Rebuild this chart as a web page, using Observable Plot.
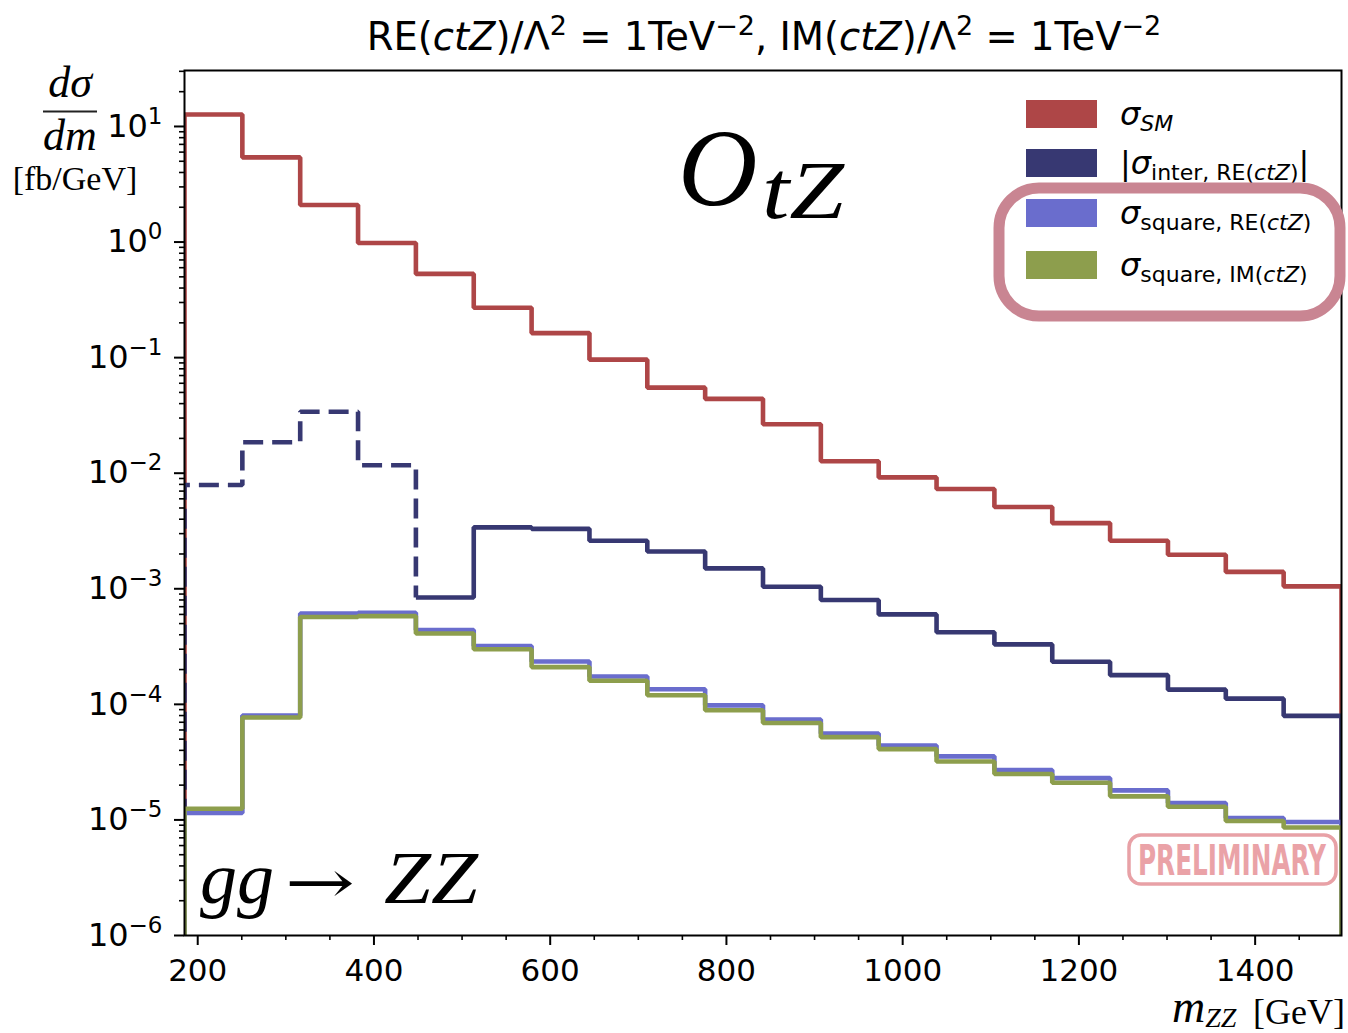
<!DOCTYPE html>
<html>
<head>
<meta charset="utf-8">
<script src="https://cdn.jsdelivr.net/npm/d3@7"></script>
<script src="https://cdn.jsdelivr.net/npm/@observablehq/plot@0.6"></script>
<style>
  html, body { margin: 0; padding: 0; background: white; }
  #chart { position: relative; width: 1348px; height: 1033px; }
</style>
</head>
<body>
<div id="chart"></div>
<script>
// ---------------- data ----------------
const binEdges = [185, 250.65, 316.3, 381.95, 447.6, 513.25, 578.9, 644.55, 710.2, 775.85,
  841.5, 907.15, 972.8, 1038.45, 1104.1, 1169.75, 1235.4, 1301.05, 1366.7, 1432.35, 1498];

const sigmaSM = [12.7, 5.4, 2.09, 0.98, 0.53, 0.27, 0.163, 0.096, 0.055, 0.044,
  0.0265, 0.0127, 0.0092, 0.0073, 0.0051, 0.0037, 0.0026, 0.00197, 0.0014, 0.00105];

// |sigma_inter|; first four bins are negative (drawn dashed)
const sigmaInter = [0.0079, 0.0185, 0.034, 0.0117, 0.00084, 0.0034, 0.0033, 0.0026, 0.0021, 0.0015,
  0.00104, 0.0008, 0.0006, 0.00042, 0.00033, 0.000234, 0.000179, 0.000134, 0.000112, 0.0000795];
const interNegative = [true, true, true, true, false, false, false, false, false, false,
  false, false, false, false, false, false, false, false, false, false];

const sigmaSqRE = [1.15e-5, 8.0e-5, 6.1e-4, 6.2e-4, 4.4e-4, 3.2e-4, 2.35e-4, 1.74e-4, 1.35e-4, 9.8e-5,
  7.4e-5, 5.6e-5, 4.4e-5, 3.55e-5, 2.7e-5, 2.3e-5, 1.8e-5, 1.4e-5, 1.04e-5, 9.6e-6];
const sigmaSqIM = [1.25e-5, 7.7e-5, 5.7e-4, 5.8e-4, 4.1e-4, 3.0e-4, 2.1e-4, 1.6e-4, 1.2e-4, 8.9e-5,
  6.9e-5, 5.2e-5, 4.1e-5, 3.2e-5, 2.5e-5, 2.1e-5, 1.6e-5, 1.3e-5, 9.8e-6, 8.6e-6];

const xTickValues = [200, 400, 600, 800, 1000, 1200, 1400];
const yTickExponents = [-6, -5, -4, -3, -2, -1, 0, 1];

const colSM = "#ae4647", colInter = "#373872", colSqRE = "#6a6dcd", colSqIM = "#8d9e4d";

// ---------------- helpers ----------------
const FLOOR = 1e-8;
function stepPts(vals, i0, i1, fromFloor, toFloor, tailY) {
  const pts = [];
  if (fromFloor) pts.push({x: binEdges[i0], y: FLOOR});
  for (let i = i0; i <= i1; i++) {
    pts.push({x: binEdges[i], y: vals[i]});
    pts.push({x: binEdges[i + 1], y: vals[i]});
  }
  if (toFloor) pts.push({x: binEdges[i1 + 1], y: FLOOR});
  if (tailY != null) pts.push({x: binEdges[i1 + 1], y: tailY});
  return pts;
}
const firstPos = interNegative.indexOf(false);
const interDashed = stepPts(sigmaInter, 0, firstPos - 1, true, false, sigmaInter[firstPos]);
const interSolid = stepPts(sigmaInter, firstPos, sigmaInter.length - 1, false, true);
const smPts = stepPts(sigmaSM, 0, sigmaSM.length - 1, true, true);
const rePts = stepPts(sigmaSqRE, 0, sigmaSqRE.length - 1, true, true);
const imPts = stepPts(sigmaSqIM, 0, sigmaSqIM.length - 1, true, true);

const yMajor = yTickExponents.map(e => Math.pow(10, e));
const yMinor = [];
for (const e of yTickExponents) for (let k = 2; k <= 9; k++) {
  const v = k * Math.pow(10, e);
  if (v <= 30.5) yMinor.push(v);
}
const xMinor = [];
for (let v = 200; v <= 1450; v += 50) if (!xTickValues.includes(v)) xMinor.push(v);

const lineOpts = {x: "x", y: "y", strokeWidth: 4.6, clip: true, strokeLinejoin: "miter", strokeLinecap: "butt"};

const svgPlot = Plot.plot({
  width: 1348, height: 1033,
  marginLeft: 184, marginRight: 7, marginTop: 70, marginBottom: 98,
  x: {domain: [185, 1498], label: null},
  y: {type: "log", domain: [1e-6, 30.5], label: null},
  style: {fontFamily: "DejaVu Sans", fontSize: "32px", background: "white", color: "black", overflow: "visible"},
  marks: [
    Plot.line(smPts, {...lineOpts, stroke: colSM}),
    Plot.line(interDashed, {...lineOpts, stroke: colInter, strokeDasharray: "20,9"}),
    Plot.line(interSolid, {...lineOpts, stroke: colInter}),
    Plot.line(rePts, {...lineOpts, stroke: colSqRE}),
    Plot.line(imPts, {...lineOpts, stroke: colSqIM}),
    Plot.axisX({ticks: xTickValues, tickSize: 10, tickPadding: 13, tickFormat: d => String(d), label: null, fontSize: 31, strokeWidth: 2}),
    Plot.axisX({ticks: xMinor, tickSize: 5, tickFormat: () => "", label: null, strokeWidth: 1.6}),
    Plot.axisY({ticks: yMajor, tickSize: 10, tickPadding: 12, tickFormat: d => "e" + Math.round(Math.log10(d)), label: null, fontSize: 32, strokeWidth: 2}),
    Plot.axisY({ticks: yMinor, tickSize: 5, tickFormat: () => "", label: null, strokeWidth: 1.6}),
    Plot.frame({stroke: "black", strokeWidth: 2})
  ]
});
document.getElementById("chart").appendChild(svgPlot);

const svg = d3.select(svgPlot);

// y tick labels as 10^n
svg.selectAll("text").each(function() {
  const t = this.textContent;
  if (/^e-?\d+$/.test(t)) {
    const n = parseInt(t.slice(1));
    const sel = d3.select(this);
    sel.text("");
    sel.append("tspan").text("10");
    sel.append("tspan").attr("dy", "-13").attr("font-size", "23px").text((n < 0 ? "\u2212" : "") + Math.abs(n));
  }
});

// rich text helper
function rich(x, y, parts, opts) {
  const t = svg.append("text").attr("x", x).attr("y", y)
    .attr("font-family", opts.family || "DejaVu Sans")
    .attr("font-size", (opts.size || 30) + "px")
    .attr("text-anchor", opts.anchor || "start")
    .attr("fill", opts.fill || "black");
  if (opts.textLength) t.attr("textLength", opts.textLength).attr("lengthAdjust", "spacingAndGlyphs");
  let off = 0;
  for (const p of parts) {
    const s = t.append("tspan").text(p.t);
    let target = 0;
    if (p.sup) target = -(p.shift || 13);
    if (p.sub) target = (p.shift || 6);
    if (target !== off) { s.attr("dy", target - off); off = target; }
    if (p.sup || p.sub) s.attr("font-size", (p.subsize || opts.subsize || 21) + "px");
    if (p.it) s.attr("font-style", "italic");
    if (p.family) s.attr("font-family", p.family);
  }
  return t;
}

// title
rich(764, 50, [
  {t: "RE("}, {t: "ctZ", it: true}, {t: ")/\u039B"}, {t: "2", sup: true, shift: 15},
  {t: " = 1TeV"}, {t: "\u22122", sup: true, shift: 15}, {t: ", IM("}, {t: "ctZ", it: true},
  {t: ")/\u039B"}, {t: "2", sup: true, shift: 15}, {t: " = 1TeV"}, {t: "\u22122", sup: true, shift: 15}
], {size: 38.5, subsize: 27, anchor: "middle"});

// y axis label
const serif = "Liberation Serif";
rich(70, 97, [{t: "d\u03C3", it: true}], {family: serif, size: 44, anchor: "middle"});
svg.append("rect").attr("x", 43).attr("y", 110.5).attr("width", 54).attr("height", 2).attr("fill", "#222");
rich(70, 150, [{t: "dm", it: true}], {family: serif, size: 44, anchor: "middle"});
rich(75, 190, [{t: "[fb/GeV]"}], {family: serif, size: 34, anchor: "middle"});

// x axis label
rich(1172, 1022, [{t: "m", it: true}, {t: "ZZ", it: true, sub: true, shift: 5, subsize: 28}], {family: serif, size: 46});
rich(1345, 1024, [{t: "[GeV]"}], {family: serif, size: 36, anchor: "end"});

// O_tZ
rich(678, 205, [{t: "O", it: true}], {family: serif, size: 110});
rich(762, 218, [{t: "tZ", it: true}], {family: serif, size: 82, textLength: 82});

// gg -> ZZ
rich(200, 903, [{t: "gg", it: true}], {family: serif, size: 74});
rich(285, 903, [{t: "\u2192"}], {family: "DejaVu Serif", size: 60, textLength: 70});
rich(384, 903, [{t: "ZZ", it: true}], {family: serif, size: 74, textLength: 94});

// legend
const legendRows = [
  {color: colSM, parts: [{t: "\u03C3", it: true}, {t: "SM", it: true, sub: true}]},
  {color: colInter, parts: [{t: "|"}, {t: "\u03C3", it: true}, {t: "inter, RE(", sub: true}, {t: "ctZ", it: true, sub: true}, {t: ")", sub: true}, {t: "|"}]},
  {color: colSqRE, parts: [{t: "\u03C3", it: true}, {t: "square, RE(", sub: true}, {t: "ctZ", it: true, sub: true}, {t: ")", sub: true}]},
  {color: colSqIM, parts: [{t: "\u03C3", it: true}, {t: "square, IM(", sub: true}, {t: "ctZ", it: true, sub: true}, {t: ")", sub: true}]}
];
const legendTops = [100, 149, 199, 251];
legendRows.forEach((r, i) => {
  svg.append("rect").attr("x", 1026).attr("y", legendTops[i]).attr("width", 71).attr("height", 28).attr("fill", r.color);
  rich(1120, legendTops[i] + 25, r.parts, {size: 32, subsize: 22});
});
// highlight box
svg.append("rect").attr("x", 999).attr("y", 188).attr("width", 341).attr("height", 128).attr("rx", 40)
  .attr("fill", "none").attr("stroke", "#c98592").attr("stroke-width", 11);

// PRELIMINARY stamp
svg.append("rect").attr("x", 1129).attr("y", 835).attr("width", 207).attr("height", 49).attr("rx", 12)
  .attr("fill", "white").attr("stroke", "#e8a1a6").attr("stroke-width", 3.5);
svg.append("text").attr("transform", "translate(1232,875) scale(1,1.45)").attr("text-anchor", "middle")
  .attr("font-family", "DejaVu Sans Condensed, DejaVu Sans").attr("font-weight", "bold")
  .attr("font-size", "29px").attr("textLength", 188).attr("lengthAdjust", "spacingAndGlyphs")
  .attr("fill", "#eaa2a7").text("PRELIMINARY");
</script>
</body>
</html>
